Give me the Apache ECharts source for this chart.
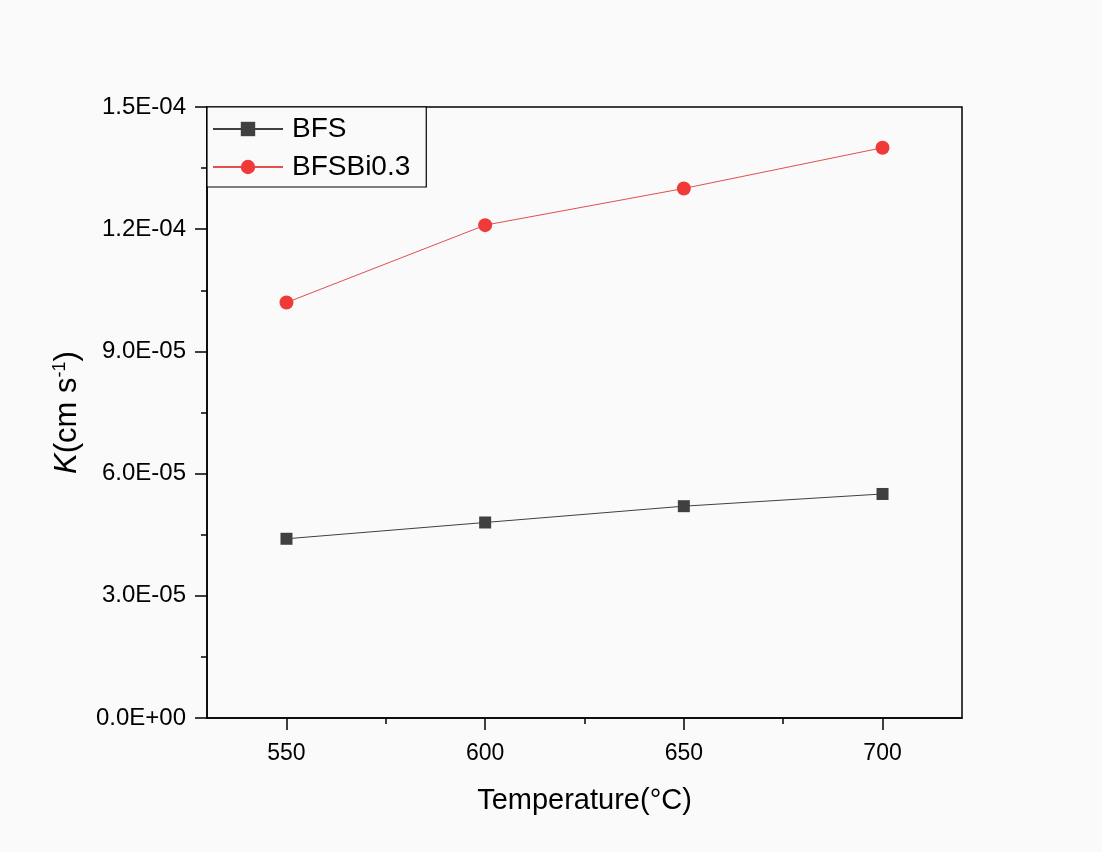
<!DOCTYPE html>
<html>
<head>
<meta charset="utf-8">
<script src="https://cdn.jsdelivr.net/npm/echarts@6/dist/echarts.min.js"></script>
<style>
html,body{margin:0;padding:0;background:#fafafa;}
#chart{width:1102px;height:852px;}
</style>
</head>
<body>
<div id="chart"></div>
<script>
var temperatures = [550, 600, 650, 700];
var bfsValues = [4.4e-5, 4.8e-5, 5.2e-5, 5.5e-5];
var bfsBiValues = [1.02e-4, 1.21e-4, 1.30e-4, 1.40e-4];
var xMajorTicks = [550, 600, 650, 700];
var xMinorTicks = [575, 625, 675];
var seriesNames = ['BFS', 'BFSBi0.3'];

function sci(v) {
  if (Math.abs(v) < 1e-20) return '0.0E+00';
  var s = v.toExponential(1).split('e');
  var e = parseInt(s[1], 10);
  var sign = e < 0 ? '-' : '+';
  var a = Math.abs(e);
  return s[0] + 'E' + sign + (a < 10 ? '0' + a : '' + a);
}
function pairs(xs, ys) { return xs.map(function (x, i) { return [x, ys[i]]; }); }

var font = 'Liberation Sans, Arial, sans-serif';
var chart = echarts.init(document.getElementById('chart'));
chart.setOption({
  backgroundColor: '#fafafa',
  animation: false,
  grid: { left: 207, top: 107, right: 140, bottom: 134, show: true, borderColor: '#000', borderWidth: 1.5, backgroundColor: 'transparent' },
  legend: {
    left: 207, top: 107, orient: 'vertical',
    data: seriesNames,
    itemWidth: 70, itemHeight: 18, itemGap: 10,
    padding: [8, 16, 6, 5],
    borderColor: '#000', borderWidth: 1.2,
    backgroundColor: '#fafafa',
    textStyle: { fontFamily: font, fontSize: 28, color: '#000', padding: [0, 0, 0, 4] }
  },
  xAxis: [{
    type: 'value', min: 530, max: 720,
    name: 'Temperature(°C)', nameLocation: 'middle', nameGap: 68,
    nameTextStyle: { fontFamily: font, fontSize: 29, color: '#000' },
    axisLine: { show: true, lineStyle: { color: '#000', width: 1.5 } },
    axisTick: { show: true, inside: false, length: 12, customValues: xMajorTicks, lineStyle: { color: '#000', width: 1.5 } },
    axisLabel: { customValues: xMajorTicks, fontFamily: font, fontSize: 23, color: '#000', margin: 24 },
    splitLine: { show: false }
  }, {
    type: 'value', min: 530, max: 720, position: 'bottom',
    axisLine: { show: false },
    axisTick: { show: true, length: 6, customValues: xMinorTicks, lineStyle: { color: '#000', width: 1.5 } },
    axisLabel: { show: false },
    splitLine: { show: false }
  }],
  yAxis: {
    type: 'value', min: 0, max: 1.5e-4, interval: 3e-5,
    name: '{k|K}{n|(cm s}{s|-1}{n|)}', nameLocation: 'middle', nameGap: 124,
    nameTextStyle: {
      rich: {
        k: { fontFamily: font, fontSize: 31, fontStyle: 'italic', color: '#000' },
        n: { fontFamily: font, fontSize: 31, color: '#000' },
        s: { fontFamily: font, fontSize: 18, color: '#000', verticalAlign: 'top', padding: [0, 0, 14, 0] }
      }
    },
    axisLine: { show: true, lineStyle: { color: '#000', width: 1.5 } },
    axisTick: { show: true, length: 12, lineStyle: { color: '#000', width: 1.5 } },
    minorTick: { show: true, splitNumber: 2, length: 6, lineStyle: { color: '#000', width: 1.5 } },
    axisLabel: { formatter: sci, fontFamily: font, fontSize: 24, color: '#000', margin: 21 },
    splitLine: { show: false }
  },
  series: [{
    name: seriesNames[0], type: 'line', data: pairs(temperatures, bfsValues),
    symbol: 'rect', symbolSize: 12,
    itemStyle: { color: '#404040' },
    lineStyle: { color: '#404040', width: 1 }
  }, {
    name: seriesNames[1], type: 'line', data: pairs(temperatures, bfsBiValues),
    symbol: 'circle', symbolSize: 14,
    itemStyle: { color: '#f03a3a' },
    lineStyle: { color: '#e05050', width: 1 }
  }]
});
</script>
</body>
</html>
